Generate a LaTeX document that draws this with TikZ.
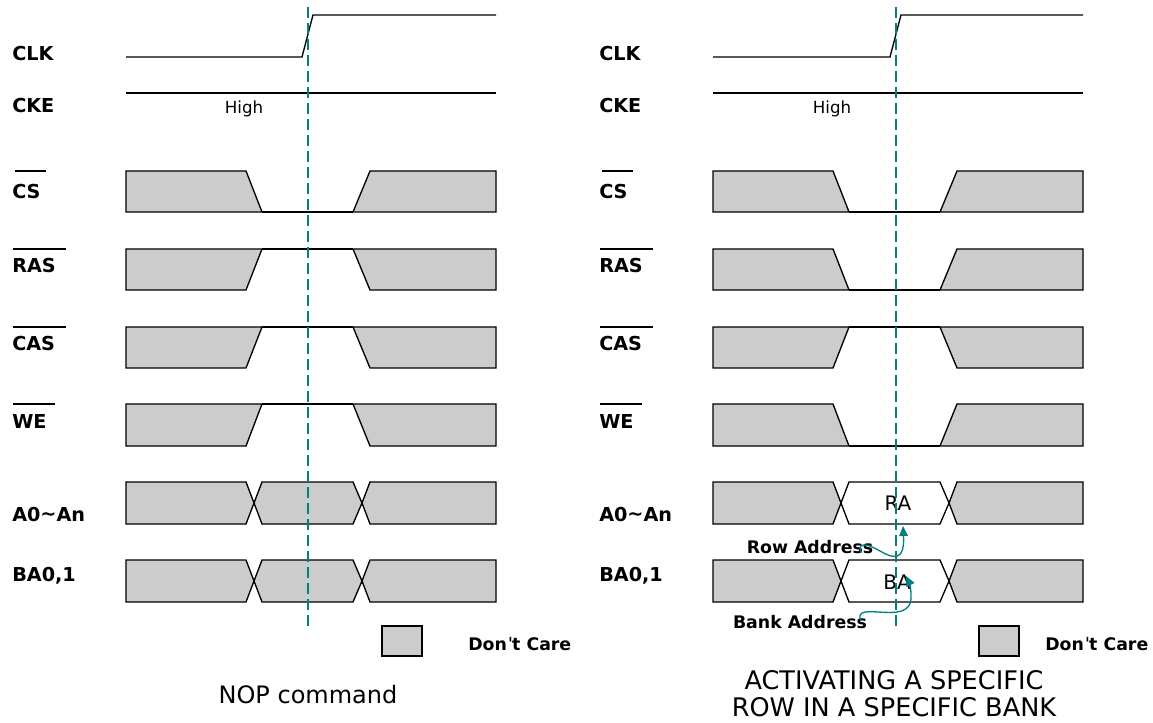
\documentclass[tikz,border=0pt]{standalone}
\usepackage{fontspec}
\setmainfont{DejaVu Sans}
\usetikzlibrary{arrows.meta}
\definecolor{tealc}{RGB}{0,128,128}
\definecolor{dcgray}{RGB}{204,204,204}
% low in the middle: shift, top, bottom
\newcommand\sigLowMid[3]{%
 \draw[blk] ({#1+126},#2) -- ({#1+246},#2) -- ({#1+262},#3) -- ({#1+126},#3) -- cycle;
 \draw[sig] ({#1+262},#3) -- ({#1+353},#3);
 \draw[blk] ({#1+353},#3) -- ({#1+370},#2) -- ({#1+496},#2) -- ({#1+496},#3) -- cycle;}
% high in the middle: shift, top, bottom
\newcommand\sigHighMid[3]{%
 \draw[blk] ({#1+126},#2) -- ({#1+262},#2) -- ({#1+246},#3) -- ({#1+126},#3) -- cycle;
 \draw[sig] ({#1+262},#2) -- ({#1+353},#2);
 \draw[blk] ({#1+353},#2) -- ({#1+370},#3) -- ({#1+496},#3) -- ({#1+496},#2) -- cycle;}
% bus: shift, top, bottom, middle fill
\newcommand\sigBus[4]{%
 \draw[blk] ({#1+126},#2) -- ({#1+246},#2) -- ({#1+254},{(#2+#3)/2}) -- ({#1+246},#3) -- ({#1+126},#3) -- cycle;
 \draw[blk,fill=#4] ({#1+254},{(#2+#3)/2}) -- ({#1+262},#2) -- ({#1+353},#2) -- ({#1+362},{(#2+#3)/2}) -- ({#1+353},#3) -- ({#1+262},#3) -- cycle;
 \draw[blk] ({#1+362},{(#2+#3)/2}) -- ({#1+370},#2) -- ({#1+496},#2) -- ({#1+496},#3) -- ({#1+370},#3) -- cycle;}
\newcommand\dontcare{Don\kern0.05em{\char"02C8}\kern-0.05em t Care}
\begin{document}
\begin{tikzpicture}[x=0.75pt,y=-0.75pt,
  sig/.style={line width=1pt, black},
  blk/.style={sig, fill=dcgray},
  lbl/.style={anchor=west, inner sep=0pt, font=\fontsize{14.4}{16}\selectfont\bfseries},
  note/.style={inner sep=0pt, font=\fontsize{13}{15}\selectfont\bfseries},
  captxt/.style={inner sep=0pt, font=\fontsize{18}{20.25}\selectfont, align=center},
  marker/.style={tealc, line width=1.5pt, dash pattern=on 8.25pt off 3.75pt},
  callout/.style={tealc, line width=1pt, -{Triangle[length=7.5pt,width=6.5pt]}},
  ovl/.style={line width=1pt, black},
]
\useasboundingbox (0,0) rectangle (1153,723);

% ================= left panel: NOP =================
\node[lbl] (lclk) at (12,54) {CLK};
\node[lbl] (lcke) at (12,106) {CKE};
\node[lbl] (lcs)  at (12,192) {CS};
\node[lbl] (lras) at (12,266) {RAS};
\node[lbl] (lcas) at (12,344) {CAS};
\node[lbl] (lwe)  at (12,422) {WE};
\node[lbl] (la0)  at (12,515) {A0\raisebox{0.1ex}{\char"223C}An};
\node[lbl] (lba)  at (12,576) {BA0,1};
\draw[ovl] (15,171) -- (46,171);
\draw[ovl] (13,249) -- (66,249);
\draw[ovl] (13,327) -- (66,327);
\draw[ovl] (13,404) -- (55,404);

\draw[sig] (126,57) -- (302,57) -- (313,15) -- (496,15);
\draw[sig] (126,93) -- (496,93);
\node[inner sep=0pt, font=\fontsize{12.5}{14}\selectfont] (lhigh) at (244,109) {High};
\sigLowMid{0}{171}{212}
\sigHighMid{0}{249}{290}
\sigHighMid{0}{327}{368}
\sigHighMid{0}{404}{446}
\sigBus{0}{482}{524}{dcgray}
\sigBus{0}{560}{602}{dcgray}
\coordinate (lmk1) at (308,7);
\coordinate (lmk2) at (308,628);
\draw[marker] (lmk1) -- (lmk2);
\draw[blk] (382,626) rectangle (422,656);
\node[note, anchor=west] (ldc) at (468,644) {\dontcare};
\node[captxt] (ltitle) at (308,695) {NOP command};

% ================= right panel: ACTIVE =================
\node[lbl] (rclk) at (599,54) {CLK};
\node[lbl] (rcke) at (599,106) {CKE};
\node[lbl] (rcs)  at (599,192) {CS};
\node[lbl] (rras) at (599,266) {RAS};
\node[lbl] (rcas) at (599,344) {CAS};
\node[lbl] (rwe)  at (599,422) {WE};
\node[lbl] (ra0)  at (599,515) {A0\raisebox{0.1ex}{\char"223C}An};
\node[lbl] (rba)  at (599,576) {BA0,1};
\draw[ovl] (602,171) -- (633,171);
\draw[ovl] (600,249) -- (653,249);
\draw[ovl] (600,327) -- (653,327);
\draw[ovl] (600,404) -- (642,404);

\draw[sig] (713,57) -- (890,57) -- (901,15) -- (1083,15);
\draw[sig] (713,93) -- (1083,93);
\node[inner sep=0pt, font=\fontsize{12.5}{14}\selectfont] (rhigh) at (832,109) {High};
\sigLowMid{587}{171}{212}
\sigLowMid{587}{249}{290}
\sigHighMid{587}{327}{368}
\sigLowMid{587}{404}{446}
\sigBus{587}{482}{524}{white}
\sigBus{587}{560}{602}{white}
\node[inner sep=0pt, font=\fontsize{15}{17}\selectfont] (rRA) at (898,503) {RA};
\node[inner sep=0pt, font=\fontsize{15}{17}\selectfont] (rBA) at (897,582) {BA};
\coordinate (rmk1) at (896,7);
\coordinate (rmk2) at (896,628);
\draw[marker] (rmk1) -- (rmk2);

\node[note] (rowaddr) at (810,547) {Row Address};
\node[note] (bankaddr) at (800,622) {Bank Address};
\coordinate (rowTail) at (861,553);
\coordinate (raTip) at (903,526);
\coordinate (bankTail) at (861,621);
\coordinate (baTip) at (906,576);
\draw[callout] (rowTail) .. controls (857,541) and (868,544) .. (880,551)
   .. controls (892,558) and (905,563) .. (raTip);
\draw[callout] (bankTail) .. controls (857,612) and (864,611) .. (878,612)
   .. controls (896,613) and (912,614) .. (911,595)
   .. controls (911,587) and (909,582) .. (baTip);

\draw[blk] (979,626) rectangle (1019,656);
\node[note, anchor=west] (rdc) at (1045,644) {\dontcare};
\node[captxt, font=\fontsize{19.2}{20.25}\selectfont] (rtitle) at (894,694) {ACTIVATING A SPECIFIC\\ROW IN A SPECIFIC BANK};
\end{tikzpicture}
\end{document}
